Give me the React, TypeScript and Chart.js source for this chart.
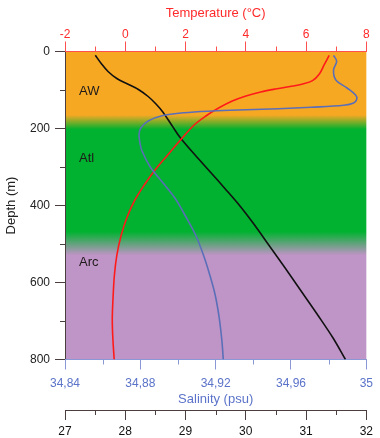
import React, { useEffect, useRef } from 'react';
import { Chart, registerables } from 'chart.js';

Chart.register(...registerables);

// ---- data ----
const tempDepth = [9.9, 34.3, 58.4, 75.8, 84.4, 90.9, 97.4, 105.2, 115.6, 128.6, 146.8, 167.5, 190.9, 229.9, 268.8, 307.8, 346.8, 385.7, 429.9, 476.6, 528.6, 580.5, 645.5, 697.4, 749.4, 800];
const tempValues = [6.766, 6.604, 6.442, 6.214, 5.89, 5.468, 4.981, 4.494, 4.006, 3.552, 3.097, 2.675, 2.286, 1.831, 1.409, 0.987, 0.63, 0.321, 0.062, -0.133, -0.279, -0.36, -0.409, -0.431, -0.409, -0.367];

const salDepth = [9.9, 25.5, 47.3, 73.2, 94.8, 113, 123.4, 133.8, 139.7, 144.9, 148.6, 151.2, 154.5, 159, 167.5, 180.5, 198.7, 214.3, 235.1, 255.8, 299.2, 342.3, 381.3, 424.7, 476.6, 528.6, 580.5, 632.5, 689.6, 749.4, 800];
const salValues = [34.9826, 34.98426, 34.9826, 34.98374, 34.98977, 34.99429, 34.99496, 34.99325, 34.98805, 34.97075, 34.9534, 34.9361, 34.91792, 34.90322, 34.89106, 34.88416, 34.88026, 34.87932, 34.87974, 34.88068, 34.88519, 34.89221, 34.89844, 34.90364, 34.90935, 34.91351, 34.91688, 34.91974, 34.92182, 34.92327, 34.92405];

const densDepth = [9.9, 31.2, 51.9, 70.1, 84.4, 98.7, 116.9, 136.4, 157.1, 190.9, 225.5, 268.8, 312.2, 354.5, 398.7, 448.1, 505.2, 562.3, 624.7, 687, 744.2, 800];
const densValues = [27.503, 27.601, 27.714, 27.86, 28.039, 28.218, 28.38, 28.51, 28.623, 28.769, 28.92, 29.159, 29.407, 29.646, 29.89, 30.133, 30.393, 30.653, 30.929, 31.205, 31.448, 31.654];

const depthTicks = [0, 200, 400, 600, 800];
const depthMinorTicks = [100, 300, 500, 700];
const tempTicks = [-2, 0, 2, 4, 6, 8];
const tempMinorTicks = [-1, 1, 3, 5, 7];
const salTicks = [34.84, 34.88, 34.92, 34.96, 35];
const salTickLabels = ['34,84', '34,88', '34,92', '34,96', '35'];
const salMinorTicks = [34.86, 34.9, 34.94, 34.98];
const densTicks = [27, 28, 29, 30, 31, 32];
const densMinorTicks = [27.5, 28.5, 29.5, 30.5, 31.5];

const bandNames = ['AW', 'Atl', 'Arc'];
const bandLabelDepths = [104, 278, 548];
const bandTops = [0, 202, 529];
const bandBottoms = [165, 468, 800];

// ---- styles ----
const FONT = '"Liberation Sans", Arial, Helvetica, sans-serif';
const bandColors = ['#F7A823', '#00B22F', '#BF94C6'];
const RED = '#FF2A2A';
const RED_AXIS = '#FF5050';
const BLUE_TEXT = '#5B73C9';
const BLUE_AXIS = '#8A98D6';
const DARK_AXIS = '#4A3E3E';

const clamp01 = (v: number) => Math.max(0, Math.min(1, v));

const bandsPlugin = {
  id: 'bands',
  beforeDraw(chart: any) {
    const { ctx, chartArea: a, scales } = chart;
    const y = scales.y;
    const h = a.bottom - a.top;
    const g = ctx.createLinearGradient(0, a.top, 0, a.bottom);
    bandColors.forEach((c, i) => {
      g.addColorStop(clamp01((y.getPixelForValue(bandTops[i]) - a.top) / h), c);
      g.addColorStop(clamp01((y.getPixelForValue(bandBottoms[i]) - a.top) / h), c);
    });
    ctx.save();
    ctx.fillStyle = g;
    ctx.fillRect(a.left, a.top, a.right - a.left, a.bottom - a.top);
    ctx.fillStyle = '#1E1A1A';
    ctx.font = `13px ${FONT}`;
    ctx.textBaseline = 'middle';
    ctx.textAlign = 'left';
    bandNames.forEach((n, i) => {
      ctx.fillText(n, a.left + 14, y.getPixelForValue(bandLabelDepths[i]));
    });
    ctx.restore();
  },
};

const minorTicksPlugin = {
  id: 'minorTicks',
  afterDraw(chart: any) {
    const { ctx, scales } = chart;
    const len = 5;
    const defs = [
      { id: 'y', vals: depthMinorTicks, color: DARK_AXIS },
      { id: 'xT', vals: tempMinorTicks, color: RED_AXIS },
      { id: 'xS', vals: salMinorTicks, color: BLUE_AXIS },
      { id: 'xD', vals: densMinorTicks, color: DARK_AXIS },
    ];
    ctx.save();
    ctx.lineWidth = 1;
    defs.forEach((d) => {
      const s = scales[d.id];
      if (!s) return;
      ctx.strokeStyle = d.color;
      d.vals.forEach((v) => {
        const p = Math.round(s.getPixelForValue(v)) + 0.5;
        ctx.beginPath();
        if (d.id === 'y') {
          ctx.moveTo(s.right - len, p);
          ctx.lineTo(s.right, p);
        } else if (d.id === 'xT') {
          ctx.moveTo(p, s.bottom - len);
          ctx.lineTo(p, s.bottom);
        } else {
          ctx.moveTo(p, s.top);
          ctx.lineTo(p, s.top + len);
        }
        ctx.stroke();
      });
    });
    ctx.restore();
  },
};

const toPoints = (depths: number[], vals: number[]) => depths.map((d, i) => ({ x: vals[i], y: d }));

export default function App() {
  const ref = useRef<HTMLCanvasElement | null>(null);

  useEffect(() => {
    if (!ref.current) return;
    const chart = new Chart(ref.current, {
      type: 'scatter',
      data: {
        datasets: [
          {
            label: 'Salinity',
            data: toPoints(salDepth, salValues),
            xAxisID: 'xS',
            yAxisID: 'y',
            showLine: true,
            borderColor: '#5A6FB8',
            borderWidth: 1.6,
            pointRadius: 0,
            tension: 0.35,
          },
          {
            label: 'Temperature',
            data: toPoints(tempDepth, tempValues),
            xAxisID: 'xT',
            yAxisID: 'y',
            showLine: true,
            borderColor: '#FF1A1A',
            borderWidth: 1.6,
            pointRadius: 0,
            tension: 0.35,
          },
          {
            label: 'Density',
            data: toPoints(densDepth, densValues),
            xAxisID: 'xD',
            yAxisID: 'y',
            showLine: true,
            borderColor: '#111111',
            borderWidth: 1.6,
            pointRadius: 0,
            tension: 0.35,
          },
        ],
      },
      options: {
        responsive: false,
        animation: false,
        layout: { padding: { left: 0, right: 7, top: 0, bottom: 0 } },
        plugins: { legend: { display: false }, tooltip: { enabled: false } },
        scales: {
          y: {
            type: 'linear',
            position: 'left',
            reverse: true,
            min: 0,
            max: 800,
            afterBuildTicks: (s: any) => {
              s.ticks = depthTicks.map((v) => ({ value: v }));
            },
            afterFit: (s: any) => {
              s.width = 65;
            },
            ticks: { color: '#222', font: { size: 12, family: FONT }, padding: 5 },
            grid: { drawOnChartArea: false, drawTicks: true, tickLength: 10, color: DARK_AXIS, tickColor: DARK_AXIS },
            border: { display: true, color: DARK_AXIS, width: 1 },
            title: { display: true, text: 'Depth (m)', color: '#222', font: { size: 13, family: FONT }, padding: { top: 4, bottom: 4 } },
          },
          xT: {
            type: 'linear',
            position: 'top',
            min: -2,
            max: 8,
            afterBuildTicks: (s: any) => {
              s.ticks = tempTicks.map((v) => ({ value: v }));
            },
            afterFit: (s: any) => {
              s.height = 51.5;
            },
            ticks: { color: RED, font: { size: 12, family: FONT }, padding: 0, maxRotation: 0 },
            grid: { drawOnChartArea: false, drawTicks: true, tickLength: 10, color: RED_AXIS, tickColor: RED_AXIS },
            border: { display: true, color: RED_AXIS, width: 1 },
            title: { display: true, text: 'Temperature (°C)', color: RED, font: { size: 13, family: FONT }, padding: { top: 6, bottom: 0 } },
          },
          xS: {
            type: 'linear',
            position: 'bottom',
            weight: 1,
            min: 34.84,
            max: 35,
            afterBuildTicks: (s: any) => {
              s.ticks = salTicks.map((v) => ({ value: v }));
            },
            afterFit: (s: any) => {
              s.height = 50.5;
            },
            ticks: {
              color: BLUE_TEXT,
              font: { size: 12, family: FONT },
              padding: 7,
              maxRotation: 0,
              callback: (_v: any, i: number) => salTickLabels[i],
            },
            grid: { drawOnChartArea: false, drawTicks: true, tickLength: 10, color: BLUE_AXIS, tickColor: BLUE_AXIS },
            border: { display: true, color: BLUE_AXIS, width: 1 },
            title: { display: true, text: 'Salinity (psu)', color: BLUE_TEXT, font: { size: 13, family: FONT }, padding: { top: 0, bottom: 3 } },
          },
          xD: {
            type: 'linear',
            position: 'bottom',
            weight: 2,
            min: 27,
            max: 32,
            afterBuildTicks: (s: any) => {
              s.ticks = densTicks.map((v) => ({ value: v }));
            },
            afterFit: (s: any) => {
              s.height = 28;
            },
            ticks: { color: '#111', font: { size: 12, family: FONT }, padding: 4, maxRotation: 0 },
            grid: { drawOnChartArea: false, drawTicks: true, tickLength: 10, color: DARK_AXIS, tickColor: DARK_AXIS },
            border: { display: true, color: DARK_AXIS, width: 1 },
          },
        },
      } as any,
      plugins: [bandsPlugin, minorTicksPlugin],
    });
    return () => chart.destroy();
  }, []);

  return (
    <div style={{ position: 'absolute', left: 0, top: 0, width: 380, height: 438, background: '#fff' }}>
      <canvas ref={ref} width={380} height={438} style={{ display: 'block' }} />
    </div>
  );
}
